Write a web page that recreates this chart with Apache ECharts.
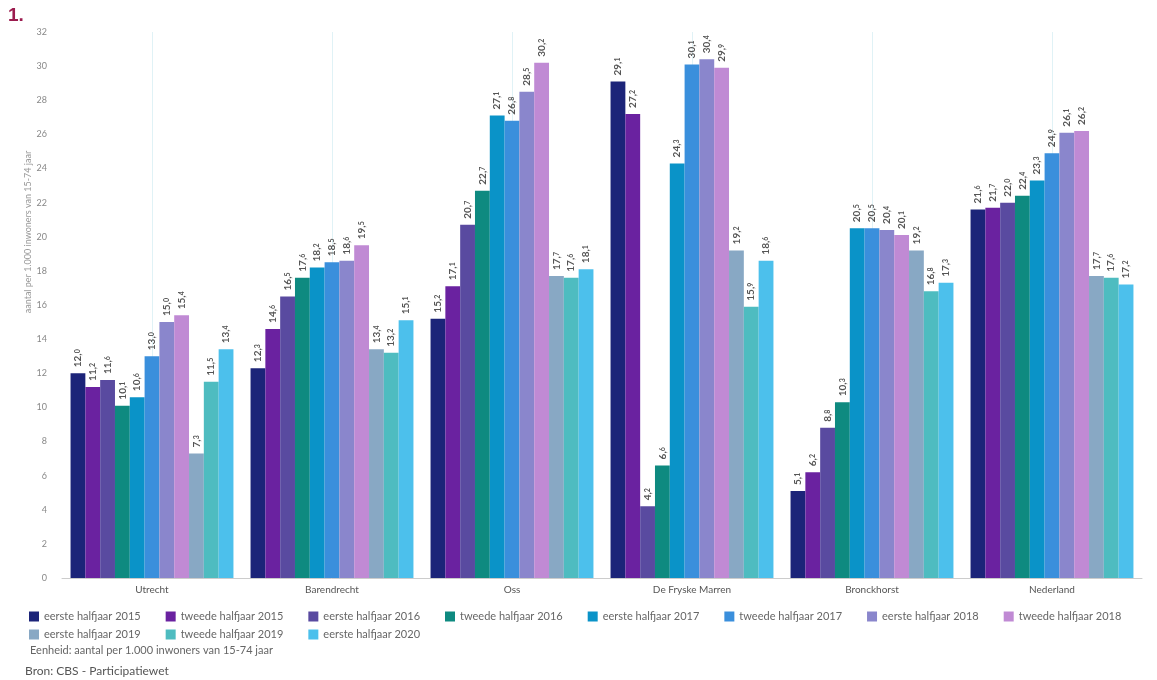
<!DOCTYPE html>
<html>
<head>
<meta charset="utf-8">
<script src="https://cdn.jsdelivr.net/npm/echarts@6/dist/echarts.min.js"></script>
<style>html,body{margin:0;padding:0;background:#fff}#c{width:1157px;height:680px}</style>
</head>
<body>
<div id="c"></div>
<script>
const categories = ['Utrecht','Barendrecht','Oss','De Fryske Marren','Bronckhorst','Nederland'];
const seriesNames = ['eerste halfjaar 2015','tweede halfjaar 2015','eerste halfjaar 2016','tweede halfjaar 2016','eerste halfjaar 2017','tweede halfjaar 2017','eerste halfjaar 2018','tweede halfjaar 2018','eerste halfjaar 2019','tweede halfjaar 2019','eerste halfjaar 2020'];
const colors = ['#1c2479','#6a22a0','#594aa0','#0e8a80','#0a93c8','#3a8fdc','#8a86cc','#c08ad4','#88a8c4','#4ebcc0','#4cc0ec'];
const eh2015 = [12.0,12.3,15.2,29.1,5.1,21.6];
const th2015 = [11.2,14.6,17.1,27.2,6.2,21.7];
const eh2016 = [11.6,16.5,20.7,4.2,8.8,22.0];
const th2016 = [10.1,17.6,22.7,6.6,10.3,22.4];
const eh2017 = [10.6,18.2,27.1,24.3,20.5,23.3];
const th2017 = [13.0,18.5,26.8,30.1,20.5,24.9];
const eh2018 = [15.0,18.6,28.5,30.4,20.4,26.1];
const th2018 = [15.4,19.5,30.2,29.9,20.1,26.2];
const eh2019 = [7.3,13.4,17.7,19.2,19.2,17.7];
const th2019 = [11.5,13.2,17.6,15.9,16.8,17.6];
const eh2020 = [13.4,15.1,18.1,18.6,17.3,17.2];
const seriesValues = [eh2015,th2015,eh2016,th2016,eh2017,th2017,eh2018,th2018,eh2019,th2019,eh2020];
const yTicks = {min:0, max:32, interval:2};

const chart = echarts.init(document.getElementById('c'));
const font = 'Lato, "Open Sans", sans-serif';

const series = seriesNames.map((name, i) => ({
  name: name,
  type: 'bar',
  z: 3,
  data: seriesValues[i],
  barGap: '0%',
  barCategoryGap: '9.5%',
  itemStyle: {color: colors[i]},
  label: {
    show: true,
    position: 'top',
    rotate: 90,
    align: 'left',
    verticalAlign: 'middle',
    distance: 6,
    formatter: p => {
      const parts = p.value.toFixed(1).split('.');
      return '{i|' + parts[0] + ',}{d|' + parts[1] + '}';
    },
    rich: {
      i: {fontSize: 10, fontWeight: 'bold', color: '#555', fontFamily: font},
      d: {fontSize: 7, fontWeight: 'bold', color: '#555', fontFamily: font}
    }
  }
}));

// faint vertical guide lines at category centres, drawn behind the bars
series.push({
  name: 'guides',
  type: 'line',
  z: 1,
  data: categories.map(() => null),
  symbol: 'none',
  silent: true,
  markLine: {
    silent: true,
    z: 1,
    symbol: 'none',
    label: {show: false},
    lineStyle: {color: '#e0f2f6', type: 'solid', width: 1},
    data: categories.map(c => ({xAxis: c}))
  }
});

const legendCommon = {
  orient: 'horizontal',
  itemWidth: 10,
  itemHeight: 10,
  itemGap: 25,
  icon: 'rect',
  textStyle: {fontSize: 11, color: '#666', fontFamily: font}
};

chart.setOption({
  animation: false,
  backgroundColor: '#fff',
  color: colors,
  grid: {left: 62, right: 15, top: 32, bottom: 102},
  xAxis: {
    type: 'category',
    data: categories,
    axisLine: {lineStyle: {color: '#cccccc'}},
    axisTick: {show: false},
    axisLabel: {fontSize: 10, color: '#555', fontFamily: font, margin: 7}
  },
  yAxis: {
    type: 'value',
    min: yTicks.min, max: yTicks.max, interval: yTicks.interval,
    axisLine: {show: false},
    axisTick: {show: false},
    splitLine: {show: false},
    axisLabel: {fontSize: 9, color: '#888', fontFamily: font, margin: 15}
  },
  legend: [
    Object.assign({}, legendCommon, {left: 24, top: 606, data: seriesNames.slice(0, 8)}),
    Object.assign({}, legendCommon, {left: 24, top: 624, data: seriesNames.slice(8)})
  ],
  graphic: [
    {type: 'text', left: 8, top: 6, style: {text: '1.', fontSize: 19, fontWeight: 'bold', fill: '#9b1b4e', fontFamily: 'Liberation Sans, Arial, sans-serif'}},
    {type: 'text', x: 28, y: 232, rotation: Math.PI / 2, style: {text: 'aantal per 1.000 inwoners van 15-74 jaar', fontSize: 9, fill: '#999', fontFamily: font, align: 'center', verticalAlign: 'middle'}},
    {type: 'text', left: 30, top: 645, style: {text: 'Eenheid: aantal per 1.000 inwoners van 15-74 jaar', fontSize: 11, fill: '#666', fontFamily: font}},
    {type: 'text', left: 25, top: 665, style: {text: 'Bron: CBS - Participatiewet', fontSize: 12, fill: '#555', fontFamily: font}}
  ],
  series: series
});
</script>
</body>
</html>
